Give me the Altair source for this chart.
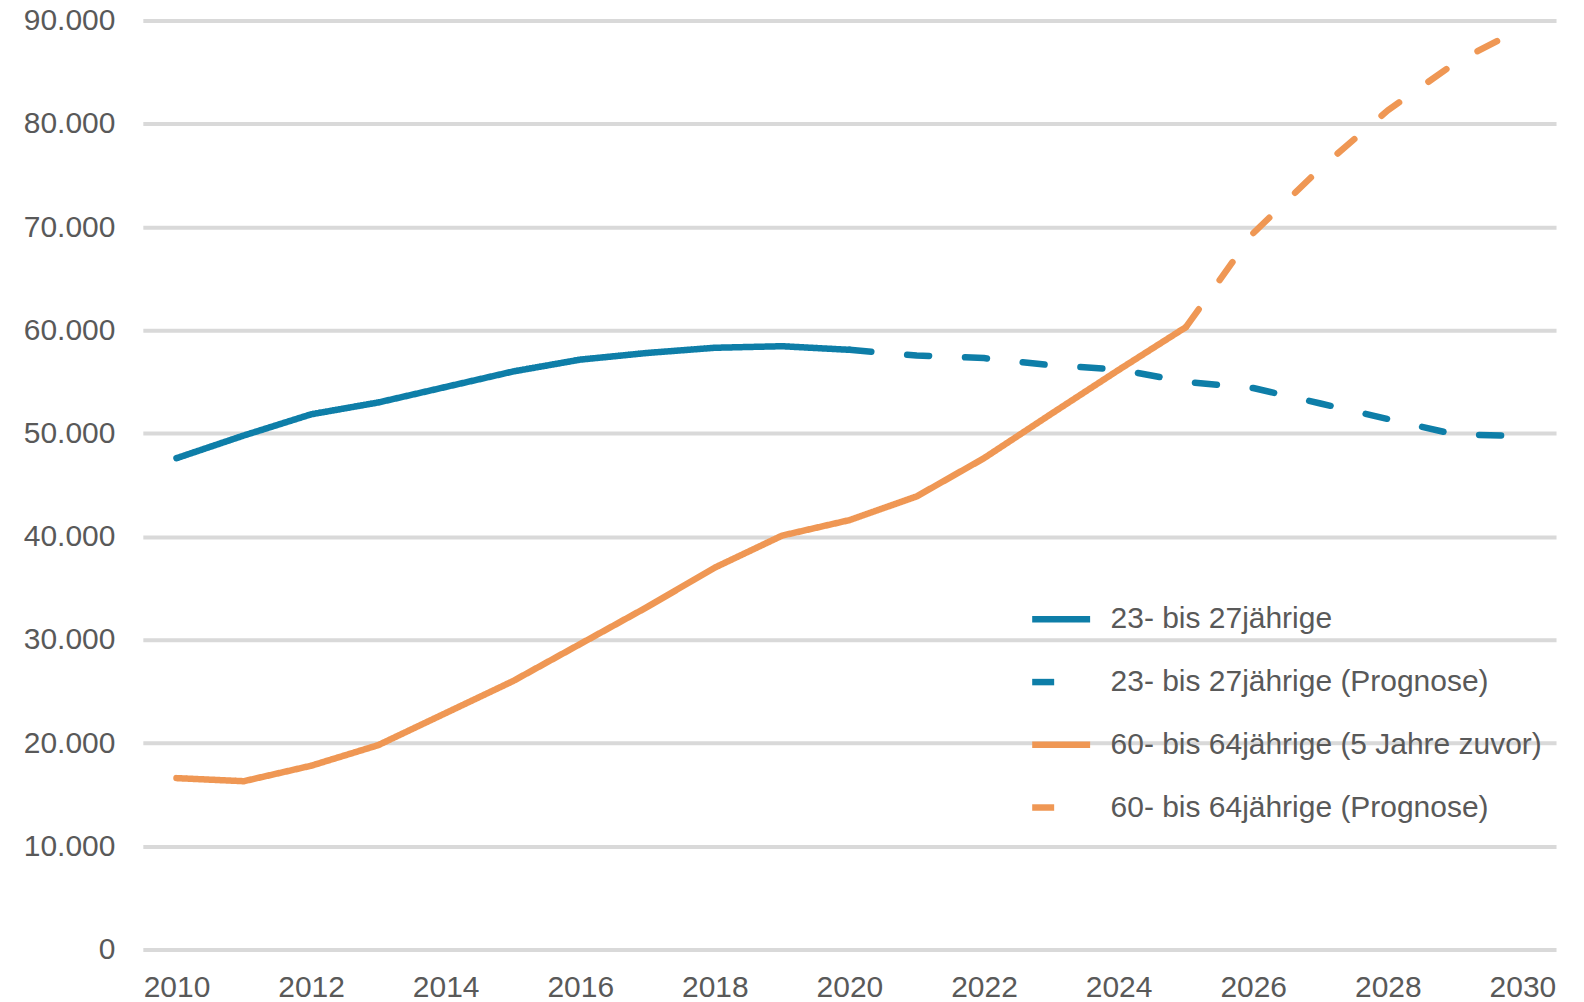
import altair as alt
import pandas as pd

# ---- data ----
series_names = [
    "23- bis 27jährige",
    "23- bis 27jährige (Prognose)",
    "60- bis 64jährige (5 Jahre zuvor)",
    "60- bis 64jährige (Prognose)",
]
young_years = list(range(2010, 2021))
young_values = [47600, 49800, 51850, 53000, 54500, 56000, 57150, 57800, 58300, 58450, 58100]
young_prog_years = list(range(2020, 2031))
young_prog_values = [58100, 57550, 57300, 56600, 56200, 55000, 54400, 52900, 51400, 49900, 49750]
old_years = list(range(2010, 2026))
old_values = [16600, 16300, 17800, 19800, 22900, 26000, 29600, 33200, 37000, 40100,
              41600, 43900, 47600, 51900, 56150, 60300]
old_prog_years = list(range(2025, 2031))
old_prog_values = [60300, 69400, 75700, 81300, 85900, 89300]

x_ticks = list(range(2010, 2031, 2))
y_ticks = list(range(0, 90001, 10000))

series_colors = ["#0E7EA8", "#0E7EA8", "#EF9754", "#EF9754"]
series_dashes = [[1, 0], [22, 36], [1, 0], [22, 36]]

rows = []
for name, yrs, vals in [
    (series_names[0], young_years, young_values),
    (series_names[1], young_prog_years, young_prog_values),
    (series_names[2], old_years, old_values),
    (series_names[3], old_prog_years, old_prog_values),
]:
    for y, v in zip(yrs, vals):
        rows.append({"Jahr": y, "Wert": v, "Reihe": name})
df = pd.DataFrame(rows)

FONT = "Liberation Sans"
TXT = "#595959"

chart = (
    alt.Chart(df)
    .mark_line(strokeWidth=6.5, strokeCap="round", strokeJoin="round")
    .encode(
        x=alt.X(
            "Jahr:Q",
            scale=alt.Scale(domain=[2009.5, 2030.5], nice=False, zero=False),
            axis=alt.Axis(
                values=x_ticks, format="d", title=None, grid=False, ticks=False,
                domain=False, labelPadding=23, labelFontSize=30, labelColor=TXT,
                labelFont=FONT, labelFlush=False, labelOverlap=False, labelBound=False,
            ),
        ),
        y=alt.Y(
            "Wert:Q",
            scale=alt.Scale(domain=[0, 90000], nice=False),
            axis=alt.Axis(
                values=y_ticks,
                labelExpr="replace(format(datum.value, ','), ',', '.')",
                title=None, ticks=False, domain=False, grid=True,
                gridColor="#D9D9D9", gridWidth=4, labelPadding=28,
                labelFontSize=30, labelColor=TXT, labelFont=FONT,
                labelFlush=False, labelOverlap=False, labelBound=False,
            ),
        ),
        color=alt.Color(
            "Reihe:N",
            sort=series_names,
            scale=alt.Scale(domain=series_names, range=series_colors),
            legend=alt.Legend(title=None),
        ),
        strokeDash=alt.StrokeDash(
            "Reihe:N",
            sort=series_names,
            scale=alt.Scale(domain=series_names, range=series_dashes),
            legend=alt.Legend(title=None),
        ),
    )
    .properties(
        width=1415,
        height=930,
        autosize=alt.AutoSizeParams(type="none"),
        padding={"left": 135, "top": 12, "right": 20, "bottom": 52},
    )
    .configure_view(stroke=None)
    .configure_legend(
        orient="none",
        legendX=887,
        legendY=567,
        symbolType="stroke",
        symbolSize=3364,
        symbolStrokeWidth=6.5,
        labelFontSize=30,
        labelFont=FONT,
        labelColor=TXT,
        labelOffset=17,
        labelLimit=0,
        rowPadding=14.8,
        padding=0,
    )
)

chart.save("out.html", embed_options={"renderer": "svg", "actions": False})
